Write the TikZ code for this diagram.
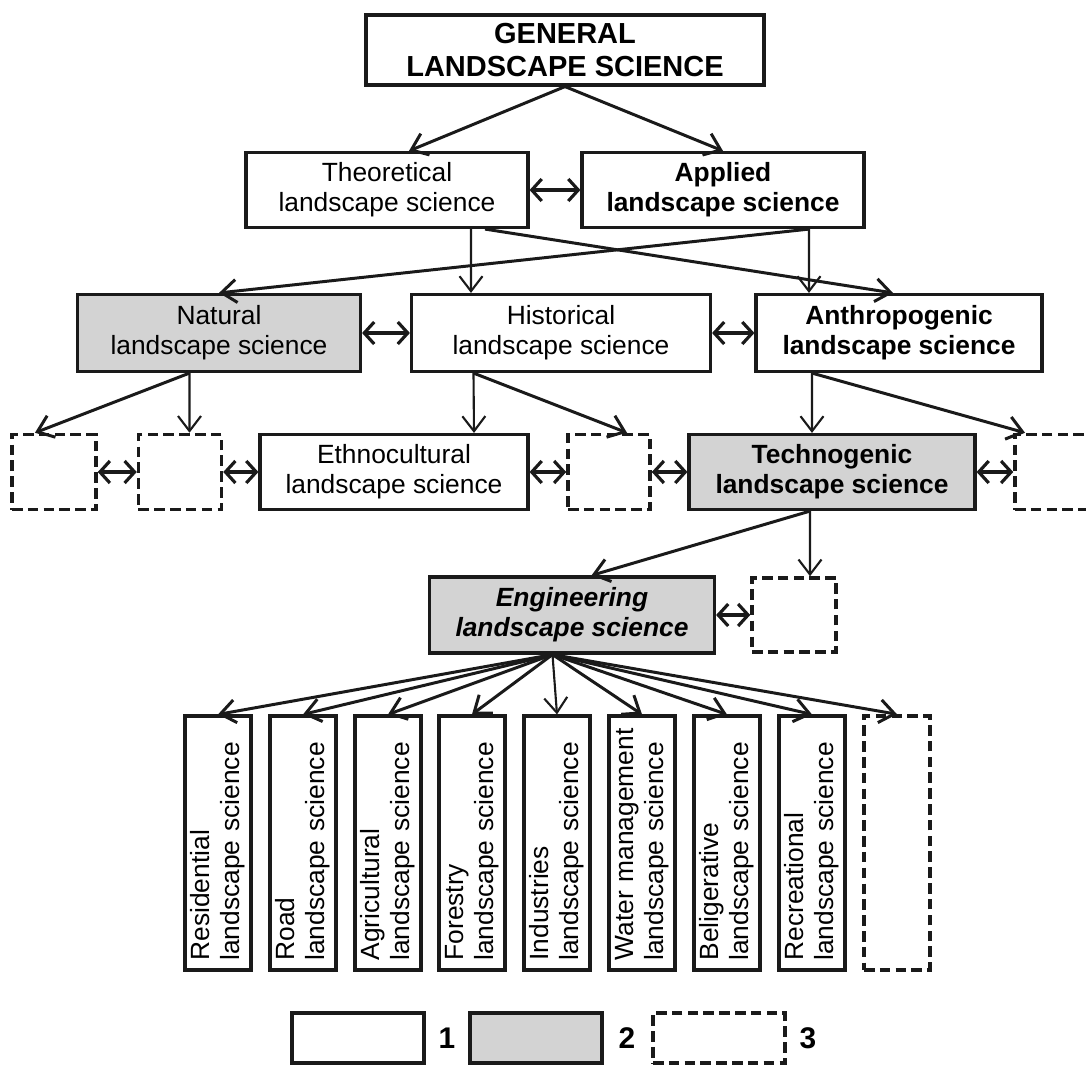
\documentclass[tikz,border=0pt]{standalone}
\usepackage{fontspec}
\setsansfont{Liberation Sans}
\usetikzlibrary{positioning,arrows.meta}
\definecolor{lsGray}{HTML}{D3D3D3}
\definecolor{lsLine}{HTML}{1A1A1A}
\newcommand{\lsfont}{\fontsize{15}{17}\selectfont}
\tikzset{
  ls-box/.style={
    draw=lsLine, line width=1.8pt, fill=white, font=\sffamily\lsfont,
    align=center, inner sep=2pt, minimum width=5.64cm, minimum height=1.5cm
  },
  ls-gray/.style={ls-box, fill=lsGray},
  ls-dash/.style={ls-box, dash pattern=on 6pt off 3pt, line width=2pt,
    minimum width=1.68cm},
  ls-sub/.style={ls-box, rotate=90, minimum width=5.08cm,
    minimum height=1.32cm, text width=4.7cm, align=left},
  ls-flow/.style={-{Straight Barb[length=3mm,width=4.6mm]},
    line width=1.7pt, draw=lsLine},
  ls-flow-t/.style={ls-flow, line width=1.2pt},
  ls-both/.style={{Straight Barb[length=2mm,width=4.4mm]}-{Straight Barb[length=2mm,width=4.4mm]},
    line width=1.8pt, draw=lsLine},
  ls-key/.style={font=\sffamily\bfseries\fontsize{17}{19}\selectfont}
}
\begin{document}
\begin{tikzpicture}[x=0.2mm, y=-0.2mm]
\useasboundingbox (0,0) rectangle (1086,1066);
\clip (0,0) rectangle (1086,1066);
\fill[white] (0,0) rectangle (1086,1066);

% top levels
\node[ls-box, minimum width=7.96cm, minimum height=1.4cm,
  font=\sffamily\bfseries\fontsize{16.5}{18.5}\selectfont] (gen) at (565,50)
  {GENERAL\\LANDSCAPE SCIENCE};
\node[ls-box] (theo) at (387,190) {Theoretical\\landscape science};
\node[ls-box, font=\sffamily\bfseries\lsfont] (appl) at (723,190)
  {Applied\\landscape science};

\node[ls-gray, minimum width=5.66cm, minimum height=1.54cm] (natu) at (219,333)
  {Natural\\landscape science};
\node[ls-box, minimum width=5.98cm, minimum height=1.54cm] (hist) at (561,333)
  {Historical\\landscape science};
\node[ls-box, minimum width=5.72cm, minimum height=1.54cm,
  font=\sffamily\bfseries\lsfont] (anth) at (899,333)
  {Anthropogenic\\landscape science};

% third row
\node[ls-dash] (d1) at (54,472) {};
\node[ls-dash, minimum width=1.66cm] (d2) at (180,472) {};
\node[ls-box, minimum width=5.36cm] (ethn) at (394,472)
  {Ethnocultural\\landscape science};
\node[ls-dash, minimum width=1.64cm] (d3) at (609,472) {};
\node[ls-gray, minimum width=5.72cm, font=\sffamily\bfseries\lsfont] (tech)
  at (832,472) {Technogenic\\landscape science};
\node[ls-dash] (d4) at (1057,472) {};

\node[ls-gray, minimum width=5.7cm, minimum height=1.52cm,
  font=\sffamily\bfseries\itshape\lsfont] (eng) at (572,615)
  {Engineering\\landscape science};
\node[ls-dash, minimum height=1.48cm] (d5) at (794,615) {};

% branches (rotated, so .east is the top)
\node[ls-sub] (resi) at (218,843) {Residential\\landscape science};
\node[ls-sub] (road) at (303,843) {Road\\landscape science};
\node[ls-sub] (agri) at (388,843) {Agricultural\\landscape science};
\node[ls-sub] (fore) at (472,843) {Forestry\\landscape science};
\node[ls-sub] (indu) at (557,843) {Industries\\landscape science};
\node[ls-sub] (watr) at (642,843) {Water management\\landscape science};
\node[ls-sub] (beli) at (727,843) {Beligerative\\landscape science};
\node[ls-sub] (recr) at (812,843) {Recreational\\landscape science};
\node[ls-dash, minimum width=1.32cm, minimum height=5.08cm] (d6) at (897,843) {};

% legend
\node[ls-box, minimum width=2.64cm, minimum height=1cm] (leg1) at (358,1038) {};
\node[ls-key] (key1) at (447,1038) {1};
\node[ls-gray, minimum width=2.64cm, minimum height=1cm] (leg2) at (536,1038) {};
\node[ls-key] (key2) at (627,1038) {2};
\node[ls-dash, minimum width=2.64cm, minimum height=1cm] (leg3) at (719,1038) {};
\node[ls-key] (key3) at (808,1038) {3};

% connectors
\draw[ls-flow] (gen.south) -- ([xshift=0.44cm]theo.north);
\draw[ls-flow] (gen.south) -- (appl.north);
\draw[ls-both] (theo.east) -- (appl.west);

\draw[ls-flow-t] ([xshift=1.68cm]theo.south) -- ([xshift=-1.8cm]hist.north);
\draw[ls-flow] ([xshift=1.96cm]theo.south) -- ([xshift=-0.12cm]anth.north);
\draw[ls-flow-t] ([xshift=1.72cm]appl.south) -- ([xshift=-1.8cm]anth.north);
\draw[ls-flow] ([xshift=1.72cm]appl.south) -- (natu.north);
\draw[ls-both] (natu.east) -- (hist.west);
\draw[ls-both] (hist.east) -- (anth.west);

\draw[ls-flow] ([xshift=-0.59cm]natu.south) -- ([xshift=-0.38cm]d1.north);
\draw[ls-flow-t] ([xshift=-0.59cm]natu.south) -- ([xshift=0.19cm]d2.north);
\draw[ls-flow-t] ([xshift=-1.75cm]hist.south) -- ([xshift=1.6cm]ethn.north);
\draw[ls-flow] ([xshift=-1.75cm]hist.south) -- ([xshift=0.36cm]d3.north);
\draw[ls-flow-t] ([xshift=-1.74cm]anth.south) -- ([xshift=-0.4cm]tech.north);
\draw[ls-flow] ([xshift=-1.74cm]anth.south) -- ([xshift=-0.64cm]d4.north);

\draw[ls-both] (d1.east) -- (d2.west);
\draw[ls-both] (d2.east) -- (ethn.west);
\draw[ls-both] (ethn.east) -- (d3.west);
\draw[ls-both] (d3.east) -- (tech.west);
\draw[ls-both] (tech.east) -- (d4.west);

\draw[ls-flow] ([xshift=-0.44cm]tech.south) -- ([xshift=0.39cm]eng.north);
\draw[ls-flow-t] ([xshift=-0.44cm]tech.south) -- ([xshift=0.32cm]d5.north);
\draw[ls-both] (eng.east) -- (d5.west);

\foreach \b in {resi,road,agri,fore,watr,beli,recr}
  \draw[ls-flow] ([xshift=-0.39cm]eng.south) -- (\b.east);
\draw[ls-flow-t] ([xshift=-0.39cm]eng.south) -- (indu.east);
\draw[ls-flow] ([xshift=-0.39cm]eng.south) -- (d6.north);
\end{tikzpicture}
\end{document}
